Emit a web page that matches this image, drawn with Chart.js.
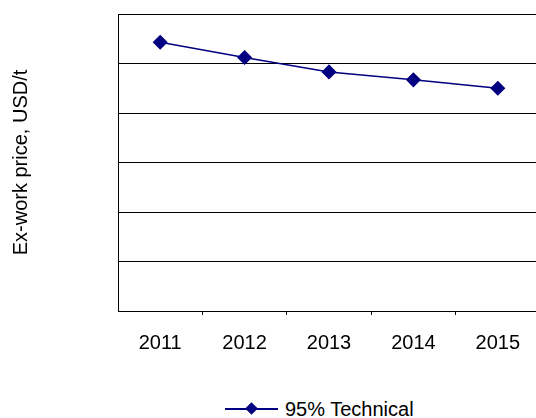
<!DOCTYPE html>
<html>
<head>
<meta charset="utf-8">
<script src="https://cdn.jsdelivr.net/npm/chart.js@4"></script>
<style>
    html, body { margin: 0; padding: 0; background: #fff; }
    #wrap { position: relative; width: 536px; height: 418px; overflow: hidden; }
    #box { position: absolute; left: 0; top: 0; width: 548px; height: 360px; }
    #legend { position: absolute; left: 225px; top: 397px; height: 24px; font: 20px "Liberation Sans", Arial, sans-serif; color: #000; }
    #legend .ln { position: absolute; left: 0; top: 11px; width: 53px; height: 2px; background: #000080; }
    #legend .mk { position: absolute; left: 22px; top: 7px; width: 9px; height: 9px; background: #000080; transform: rotate(45deg); }
    #legend .tx { position: absolute; left: 60px; top: 0; line-height: 24px; white-space: nowrap; }
</style>
</head>
<body>
<div id="wrap">
    <div id="box"><canvas id="chart" width="548" height="360"></canvas></div>
    <div id="legend"><span class="ln"></span><span class="mk"></span><span class="tx">95% Technical</span></div>
</div>
<script>
const years = ['2011', '2012', '2013', '2014', '2015'];
const technical95 = [5.43, 5.12, 4.83, 4.67, 4.50];
const seriesName = '95% Technical';

const fontFamily = '"Liberation Sans", Arial, sans-serif';

const ctx = document.getElementById('chart').getContext('2d');
new Chart(ctx, {
    type: 'line',
    data: {
        labels: years,
        datasets: [{
            label: seriesName,
            data: technical95,
            borderColor: '#000080',
            backgroundColor: '#000080',
            borderWidth: 1.5,
            pointStyle: 'rectRot',
            pointRadius: 6.5,
            pointHoverRadius: 6.5,
            tension: 0
        }]
    },
    options: {
        responsive: false,
        animation: false,
        maintainAspectRatio: false,
        layout: { padding: { top: 14, left: 0, right: 0, bottom: 0 } },
        plugins: {
            legend: { display: false },
            tooltip: { enabled: false }
        },
        scales: {
            x: {
                offset: true,
                grid: {
                    offset: true,
                    drawOnChartArea: false,
                    drawTicks: true,
                    tickLength: 4,
                    color: '#000',
                    // no tick below the left border
                    tickColor: c => c.index === 0 ? 'rgba(0,0,0,0)' : '#000'
                },
                border: { display: true, color: '#000', width: 1 },
                ticks: {
                    padding: 16,
                    color: '#000',
                    maxRotation: 0,
                    autoSkip: false,
                    font: { family: fontFamily, size: 20 }
                },
                afterFit: function (scale) { scale.height = 49; }
            },
            y: {
                min: 0,
                max: 6,
                ticks: { display: false, stepSize: 1 },
                grid: { color: '#000', drawTicks: false },
                border: { display: true, color: '#000', width: 1 },
                title: {
                    display: true,
                    text: 'Ex-work price, USD/t',
                    color: '#000',
                    padding: { top: 9, bottom: 0 },
                    font: { family: fontFamily, size: 20 }
                },
                afterFit: function (scale) { scale.width = 118; }
            }
        }
    }
});
</script>
</body>
</html>
